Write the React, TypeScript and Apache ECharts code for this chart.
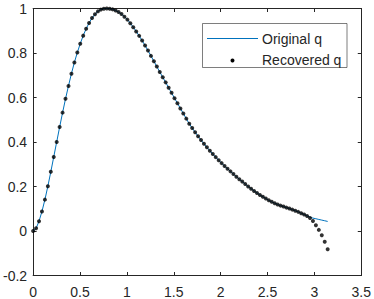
import React, { useEffect, useRef } from "react";
import * as echarts from "echarts";

const xs = [
  0, 0.0314, 0.0628, 0.0942, 0.1257, 0.1571, 0.1885, 0.2199, 0.2513, 0.2827,
  0.3142, 0.3456, 0.377, 0.4084, 0.4398, 0.4712, 0.5027, 0.5341, 0.5655, 0.5969,
  0.6283, 0.6597, 0.6912, 0.7226, 0.754, 0.7854, 0.8168, 0.8482, 0.8796, 0.9111,
  0.9425, 0.9739, 1.0053, 1.0367, 1.0681, 1.0996, 1.131, 1.1624, 1.1938, 1.2252,
  1.2566, 1.2881, 1.3195, 1.3509, 1.3823, 1.4137, 1.4451, 1.4765, 1.508, 1.5394,
  1.5708, 1.6022, 1.6336, 1.665, 1.6965, 1.7279, 1.7593, 1.7907, 1.8221, 1.8535,
  1.885, 1.9164, 1.9478, 1.9792, 2.0106, 2.042, 2.0735, 2.1049, 2.1363, 2.1677,
  2.1991, 2.2305, 2.2619, 2.2934, 2.3248, 2.3562, 2.3876, 2.419, 2.4504, 2.4819,
  2.5133, 2.5447, 2.5761, 2.6075, 2.6389, 2.6704, 2.7018, 2.7332, 2.7646, 2.796,
  2.8274, 2.8588, 2.8903, 2.9217, 2.9531, 2.9845, 3.0159, 3.0473, 3.0788, 3.1102,
  3.1416,
];

const originalQ = [
  0, 0.012, 0.044, 0.088, 0.141, 0.201, 0.266, 0.333, 0.4, 0.467,
  0.532, 0.594, 0.652, 0.707, 0.757, 0.802, 0.842, 0.878, 0.909, 0.935,
  0.957, 0.974, 0.987, 0.995, 0.999, 1.0, 0.999, 0.996, 0.991, 0.984,
  0.975, 0.963, 0.95, 0.934, 0.916, 0.897, 0.877, 0.856, 0.834, 0.811,
  0.787, 0.763, 0.739, 0.715, 0.691, 0.668, 0.644, 0.621, 0.597, 0.574,
  0.551, 0.528, 0.505, 0.482, 0.463, 0.444, 0.426, 0.409, 0.392, 0.376,
  0.361, 0.346, 0.332, 0.318, 0.305, 0.292, 0.28, 0.268, 0.256, 0.244,
  0.233, 0.222, 0.211, 0.2, 0.19, 0.18, 0.171, 0.162, 0.154, 0.146,
  0.138, 0.131, 0.125, 0.119, 0.114, 0.11, 0.105, 0.101, 0.096, 0.091,
  0.086, 0.08, 0.074, 0.068, 0.062, 0.058, 0.055, 0.052, 0.049, 0.046,
  0.043,
];

const recoveredQ = [
  0, 0.012, 0.044, 0.088, 0.141, 0.201, 0.266, 0.333, 0.4, 0.467,
  0.532, 0.594, 0.652, 0.707, 0.757, 0.802, 0.842, 0.878, 0.909, 0.935,
  0.957, 0.974, 0.987, 0.995, 0.999, 1.0, 0.999, 0.996, 0.991, 0.984,
  0.975, 0.963, 0.95, 0.934, 0.916, 0.897, 0.877, 0.856, 0.834, 0.811,
  0.787, 0.763, 0.739, 0.715, 0.691, 0.668, 0.644, 0.621, 0.597, 0.574,
  0.551, 0.528, 0.505, 0.482, 0.463, 0.444, 0.426, 0.409, 0.392, 0.376,
  0.361, 0.346, 0.332, 0.318, 0.305, 0.292, 0.28, 0.268, 0.256, 0.244,
  0.233, 0.222, 0.211, 0.2, 0.19, 0.18, 0.171, 0.162, 0.154, 0.146,
  0.138, 0.131, 0.125, 0.119, 0.114, 0.11, 0.105, 0.101, 0.096, 0.091,
  0.086, 0.08, 0.074, 0.067, 0.058, 0.045, 0.026, 0.005, -0.019, -0.048,
  -0.082,
];

const seriesNames = ["Original q", "Recovered q"];

const AXIS = "#262626";
const FONT = "'Liberation Sans', Arial, Helvetica, sans-serif";
const FS = 14;

export default function App() {
  const ref = useRef<HTMLDivElement>(null);

  useEffect(() => {
    if (!ref.current) return;
    const chart = echarts.init(ref.current, undefined, { renderer: "svg" });
    const lineStyle = { color: AXIS, width: 1 };
    const hiddenAxis = {
      axisLine: { show: true, onZero: false, lineStyle },
      axisTick: { show: true, inside: true, length: 3.5, lineStyle },
      axisLabel: { show: false },
      splitLine: { show: false },
    };
    chart.setOption({
      animation: false,
      backgroundColor: "#ffffff",
      textStyle: { fontFamily: FONT },
      grid: { left: 30, right: 10, top: 8.5, bottom: 23.5, containLabel: false },
      xAxis: [
        {
          type: "value",
          min: 0,
          max: 3.5,
          interval: 0.5,
          position: "bottom",
          axisLine: { show: true, onZero: false, lineStyle },
          axisTick: { show: true, inside: true, length: 3.5, lineStyle },
          axisLabel: { color: AXIS, fontSize: FS, fontFamily: FONT, margin: 9 },
          splitLine: { show: false },
        },
        {
          type: "value",
          min: 0,
          max: 3.5,
          interval: 0.5,
          position: "top",
          ...hiddenAxis,
        },
      ],
      yAxis: [
        {
          type: "value",
          min: -0.2,
          max: 1,
          interval: 0.2,
          position: "left",
          axisLine: { show: true, onZero: false, lineStyle },
          axisTick: { show: true, inside: true, length: 3.5, lineStyle },
          axisLabel: { color: AXIS, fontSize: FS, fontFamily: FONT, margin: 6 },
          splitLine: { show: false },
        },
        {
          type: "value",
          min: -0.2,
          max: 1,
          interval: 0.2,
          position: "right",
          ...hiddenAxis,
        },
      ],
      series: [
        {
          name: seriesNames[0],
          type: "line",
          data: xs.map((x, i) => [x, originalQ[i]]),
          showSymbol: false,
          lineStyle: { color: "#0072BD", width: 1 },
          itemStyle: { color: "#0072BD" },
          z: 2,
        },
        {
          name: seriesNames[1],
          type: "scatter",
          data: xs.map((x, i) => [x, recoveredQ[i]]),
          symbol: "circle",
          symbolSize: 4,
          itemStyle: { color: "#000000" },
          z: 3,
        },
      ],
      graphic: [
        {
          type: "rect",
          shape: { x: 202.5, y: 23.5, width: 144.5, height: 44 },
          style: { fill: "#ffffff", stroke: AXIS, lineWidth: 0.6 },
          z: 10,
        },
        {
          type: "line",
          shape: { x1: 207, y1: 38.5, x2: 258, y2: 38.5 },
          style: { stroke: "#0072BD", lineWidth: 1 },
          z: 11,
        },
        {
          type: "circle",
          shape: { cx: 232.5, cy: 60.5, r: 2 },
          style: { fill: "#000000" },
          z: 11,
        },
        {
          type: "text",
          x: 262,
          y: 39,
          style: {
            text: seriesNames[0],
            fill: AXIS,
            font: `${FS}px ${FONT}`,
            textVerticalAlign: "middle",
            verticalAlign: "middle",
          },
          z: 11,
        },
        {
          type: "text",
          x: 262,
          y: 60,
          style: {
            text: seriesNames[1],
            fill: AXIS,
            font: `${FS}px ${FONT}`,
            textVerticalAlign: "middle",
            verticalAlign: "middle",
          },
          z: 11,
        },
      ],
    });
    return () => chart.dispose();
  }, []);

  return (
    <div
      ref={ref}
      style={{ position: "fixed", left: 0, top: 0, width: 374, height: 299 }}
    />
  );
}
